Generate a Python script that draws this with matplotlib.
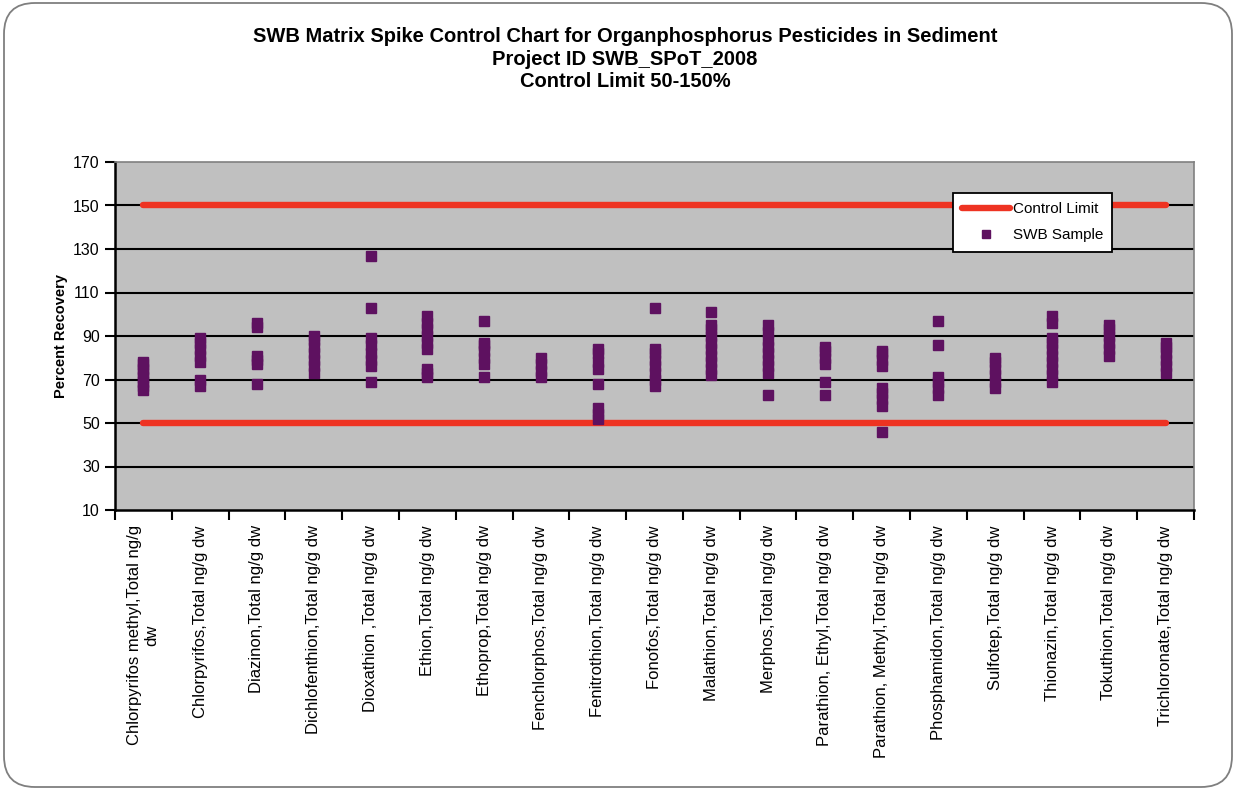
import matplotlib
matplotlib.use("Agg")
import matplotlib.pyplot as plt
from matplotlib.patches import FancyBboxPatch
from matplotlib.ticker import FixedLocator, NullFormatter

plt.rcParams['font.family'] = ['Liberation Sans', 'DejaVu Sans']

categories = [
    "Chlorpyrifos methyl,Total ng/g\ndw",
    "Chlorpyrifos,Total ng/g dw",
    "Diazinon,Total ng/g dw",
    "Dichlofenthion,Total ng/g dw",
    "Dioxathion ,Total ng/g dw",
    "Ethion,Total ng/g dw",
    "Ethoprop,Total ng/g dw",
    "Fenchlorphos,Total ng/g dw",
    "Fenitrothion,Total ng/g dw",
    "Fonofos,Total ng/g dw",
    "Malathion,Total ng/g dw",
    "Merphos,Total ng/g dw",
    "Parathion, Ethyl,Total ng/g dw",
    "Parathion, Methyl,Total ng/g dw",
    "Phosphamidon,Total ng/g dw",
    "Sulfotep,Total ng/g dw",
    "Thionazin,Total ng/g dw",
    "Tokuthion,Total ng/g dw",
    "Trichloronate,Total ng/g dw",
]

# Percent recovery of each SWB sample, per analyte
recoveries = [
    [65, 67, 69, 71, 73, 75, 77, 78],
    [67, 70, 78, 81, 84, 87, 89],
    [68, 77, 79, 81, 94, 96],
    [73, 76, 79, 82, 85, 88, 90],
    [69, 76, 79, 82, 86, 89, 103, 127],
    [71, 73, 75, 84, 87, 90, 93, 96, 99],
    [71, 77, 80, 83, 86, 87, 97],
    [71, 74, 77, 80],
    [52, 54, 57, 68, 75, 78, 82, 84],
    [67, 70, 73, 76, 79, 82, 84, 103],
    [72, 75, 78, 81, 84, 87, 90, 93, 95, 101],
    [63, 73, 76, 79, 82, 85, 88, 92, 95],
    [63, 69, 77, 80, 83, 85],
    [46, 58, 61, 64, 66, 76, 79, 82, 83],
    [63, 66, 69, 71, 86, 97],
    [66, 69, 72, 75, 78, 80],
    [69, 72, 75, 78, 81, 84, 87, 89, 96, 99],
    [81, 84, 87, 90, 93, 95],
    [73, 76, 79, 82, 85, 87],
]

lower_limit = 50
upper_limit = 150
y_ticks = [10, 30, 50, 70, 90, 110, 130, 150, 170]

title = ("SWB Matrix Spike Control Chart for Organphosphorus Pesticides in Sediment\n"
         "Project ID SWB_SPoT_2008\nControl Limit 50-150%")

W, H = 1236, 790
fig = plt.figure(figsize=(W / 100, H / 100), dpi=100)
fig.patch.set_facecolor("white")

# rounded chart-area border
border = FancyBboxPatch((4 / W, 3 / H), (W - 8) / W, (H - 6) / H,
                        boxstyle="round,pad=0,rounding_size=0.025",
                        transform=fig.transFigure, facecolor="white",
                        edgecolor="#7f7f7f", linewidth=1.3, zorder=-10,
                        mutation_aspect=W / H)
fig.patches.append(border)

ax = fig.add_axes([115 / W, 1 - 510 / H, (1194 - 115) / W, (510 - 162) / H])
ax.set_facecolor("#C0C0C0")

n = len(categories)
xs = list(range(n))

for y in y_ticks[1:-1]:
    ax.axhline(y, color="black", linewidth=1.5, zorder=1)

ax.plot(xs, [upper_limit] * n, color="#EE3322", linewidth=4.6,
        solid_capstyle="round", zorder=2, label="Control Limit")
ax.plot(xs, [lower_limit] * n, color="#EE3322", linewidth=4.6,
        solid_capstyle="round", zorder=2)

first = True
for i, vals in enumerate(recoveries):
    ax.plot([i] * len(vals), vals, linestyle="none", marker="s",
            markersize=7.8, color="#5E1160", markeredgecolor="#5E1160",
            zorder=3, label="SWB Sample" if first else None)
    first = False

ax.set_xlim(-0.5, n - 0.5)
ax.set_ylim(10, 170)
ax.set_yticks(y_ticks)
ax.set_yticklabels([str(v) for v in y_ticks], fontsize=11.5)
ax.tick_params(axis="y", direction="out", length=7, width=1.5, pad=4)

ax.set_xticks(xs)
ax.set_xticklabels(categories, rotation=90, fontsize=12, va="top",
                   ha="center", multialignment="center")
ax.tick_params(axis="x", which="major", length=0, pad=11)
ax.xaxis.set_minor_locator(FixedLocator([i - 0.5 for i in range(n + 1)]))
ax.xaxis.set_minor_formatter(NullFormatter())
ax.tick_params(axis="x", which="minor", direction="out", length=7, width=1.5)

for side in ("left", "bottom"):
    ax.spines[side].set_color("black")
    ax.spines[side].set_linewidth(1.8)
for side in ("top", "right"):
    ax.spines[side].set_color("#808080")
    ax.spines[side].set_linewidth(1.2)

ax.set_ylabel("Percent Recovery", fontsize=10.5, fontweight="bold", labelpad=4)

fig.text(625 / W, 1 - 27 / H, title, ha="center", va="top", fontsize=14.5,
         fontweight="bold", linespacing=1.24)

leg = ax.legend(loc="upper left", bbox_to_anchor=(953 / W, 1 - 193 / H),
                bbox_transform=fig.transFigure, borderaxespad=0,
                fancybox=False, framealpha=1, edgecolor="black",
                fontsize=11, handlelength=3.1, handletextpad=0.2,
                labelspacing=0.8, borderpad=0.6, markerscale=0.8)
leg.get_frame().set_linewidth(1.3)

fig.savefig("out.png", dpi=100, facecolor="white")
